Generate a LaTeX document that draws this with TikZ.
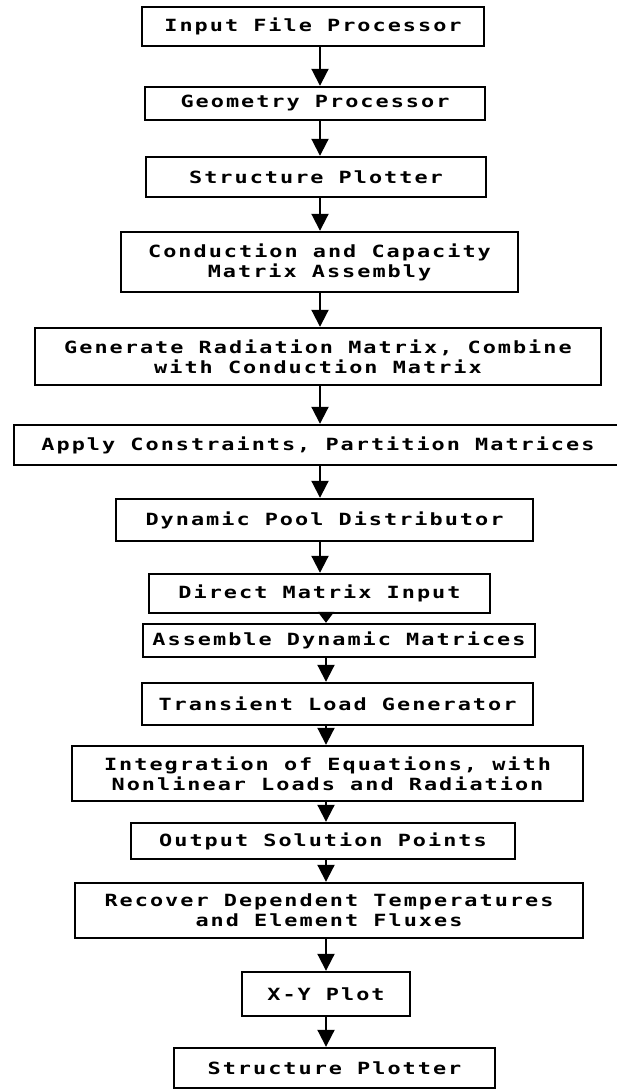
\documentclass[tikz,border=0pt]{standalone}
\usepackage{fontspec}
\newfontfamily\stagefont[LetterSpace=12,FakeStretch=1.3]{DejaVu Sans Mono}
\usetikzlibrary{arrows.meta}

\tikzset{
  stage/.style={draw, line width=1.2pt, rectangle, inner sep=0pt, align=center,
    font=\stagefont\bfseries\fontsize{8.4pt}{10pt}\selectfont},
  flow/.style={line width=1pt, -{Triangle[width=8.5pt,length=8.5pt]}},
  shortflow/.style={line width=1pt, -{Triangle[width=8pt,length=5.5pt]}}
}

\begin{document}
\begin{tikzpicture}[x=0.5pt,y=-0.5pt]
  \useasboundingbox (0,0) rectangle (616,1090);
  \coordinate (upper) at (320,0);
  \coordinate (lower) at (326,0);

  \node[stage, minimum width=171pt, minimum height=19.5pt] (inp) at (313,26.5) {Input File Processor};
  \node[stage, minimum width=170pt, minimum height=16.5pt] (geo) at (315,103.5) {Geometry Processor};
  \node[stage, minimum width=170pt, minimum height=20pt] (plot) at (316,177) {Structure Plotter};
  \node[stage, minimum width=198.5pt, minimum height=30pt] (cond) at (319.5,262) {Conduction and Capacity\\Matrix Assembly};
  \node[stage, minimum width=283pt, minimum height=28.5pt] (rad) at (318,356.5) {Generate Radiation Matrix, Combine\\with Conduction Matrix};
  \node[stage, minimum width=304pt, minimum height=20pt] (cons) at (318,445) {Apply Constraints, Partition Matrices};
  \node[stage, minimum width=208.5pt, minimum height=21pt] (pool) at (324.5,520) {Dynamic Pool Distributor};
  \node[stage, minimum width=170.5pt, minimum height=19.5pt] (dmi) at (319.5,593.5) {Direct Matrix Input};
  \node[stage, minimum width=196pt, minimum height=16.5pt] (asm) at (339,640.5) {Assemble Dynamic Matrices};
  \node[stage, minimum width=195.5pt, minimum height=21pt] (trans) at (337.5,704) {Transient Load Generator};
  \node[stage, minimum width=255.5pt, minimum height=27.5pt] (integ) at (327.5,773.5) {Integration of Equations, with\\Nonlinear Loads and Radiation};
  \node[stage, minimum width=192pt, minimum height=18pt] (outp) at (323,841) {Output Solution Points};
  \node[stage, minimum width=254pt, minimum height=27.5pt] (recov) at (329,910.5) {Recover Dependent Temperatures\\and Element Fluxes};
  \node[stage, minimum width=84pt, minimum height=22pt] (xy) at (326,994) {X-Y Plot};
  \node[stage, minimum width=160.5pt, minimum height=20pt] (plotb) at (334.5,1068) {Structure Plotter};

  \draw[flow] (inp.south -| upper) -- (geo.north -| upper);
  \draw[flow] (geo.south -| upper) -- (plot.north -| upper);
  \draw[flow] (plot.south -| upper) -- (cond.north -| upper);
  \draw[flow] (cond.south -| upper) -- (rad.north -| upper);
  \draw[flow] (rad.south -| upper) -- (cons.north -| upper);
  \draw[flow] (cons.south -| upper) -- (pool.north -| upper);
  \draw[flow] (pool.south -| upper) -- (dmi.north -| upper);
  \draw[shortflow] (dmi.south -| lower) -- (asm.north -| lower);
  \draw[flow] (asm.south -| lower) -- (trans.north -| lower);
  \draw[flow] (trans.south -| lower) -- (integ.north -| lower);
  \draw[flow] (integ.south -| lower) -- (outp.north -| lower);
  \draw[flow] (outp.south -| lower) -- (recov.north -| lower);
  \draw[flow] (recov.south -| lower) -- (xy.north -| lower);
  \draw[flow] (xy.south -| lower) -- (plotb.north -| lower);
\end{tikzpicture}
\end{document}
